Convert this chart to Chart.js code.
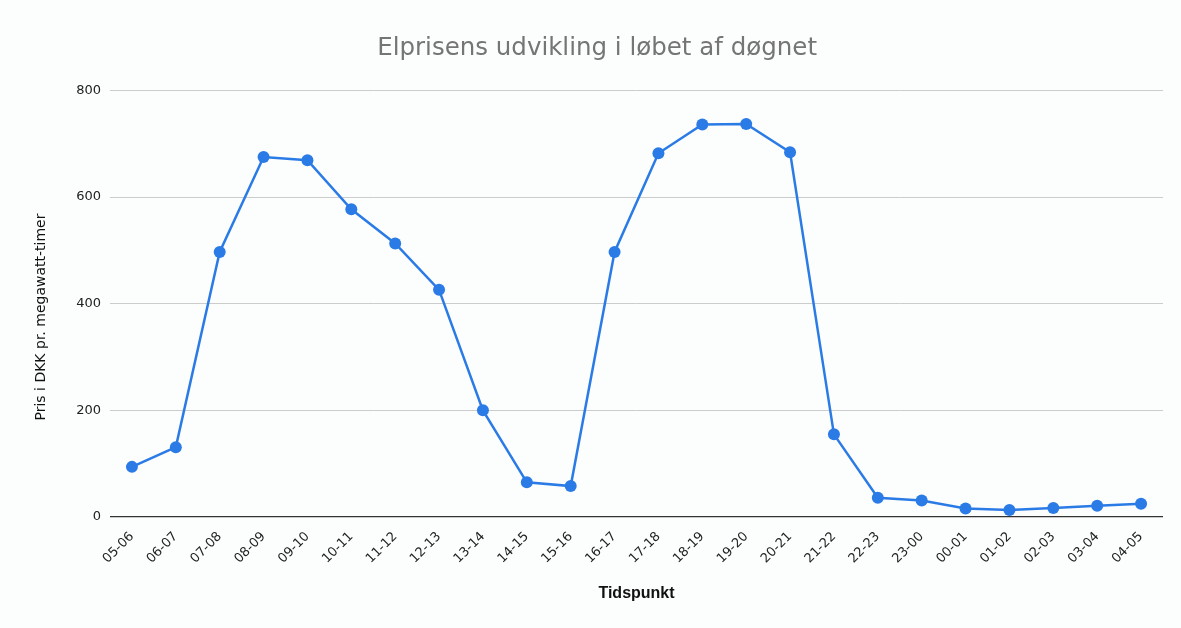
<!DOCTYPE html>
<html>
<head>
<meta charset="utf-8">
<script src="https://cdn.jsdelivr.net/npm/chart.js@4"></script>
<style>
  html, body { margin: 0; padding: 0; background: #fcfdfd; }
  #wrap { width: 1181px; height: 628px; }
</style>
</head>
<body>
<div id="wrap"><canvas id="c" width="1181" height="628"></canvas></div>
<script>
"use strict";

// time slots (hour intervals)
var categories = [
  "05-06", "06-07", "07-08", "08-09", "09-10", "10-11", "11-12", "12-13",
  "13-14", "14-15", "15-16", "16-17", "17-18", "18-19", "19-20", "20-21",
  "21-22", "22-23", "23-00", "00-01", "01-02", "02-03", "03-04", "04-05"
];

// price in DKK per MWh
var prices = [
  94, 131, 497, 675, 669, 577, 513, 426,
  200, 65, 58, 497, 682, 736, 737, 684,
  155, 36, 31, 16, 13, 17, 21, 25
];

var yTicks = [0, 200, 400, 600, 800];

var lineColor = "#2b7be6";
var sans = "'DejaVu Sans', Verdana, sans-serif";
var nb = "\u00a0";

var chart = new Chart(document.getElementById("c"), {
  type: "line",
  data: {
    labels: categories,
    datasets: [{
      label: "Pris",
      data: prices,
      borderColor: lineColor,
      backgroundColor: lineColor,
      borderWidth: 2.5,
      pointRadius: 6,
      pointHoverRadius: 6,
      pointBorderWidth: 0,
      tension: 0
    }]
  },
  options: {
    responsive: false,
    animation: false,
    layout: { padding: { left: 0, right: 18, top: 0, bottom: 0 } },
    plugins: {
      legend: { display: false },
      tooltip: { enabled: false },
      title: {
        display: true,
        // leading spaces nudge the title right, centred over the plot like the original
        text: nb.repeat(4) + "Elprisens udvikling i løbet af døgnet",
        color: "#757575",
        font: { family: sans, size: 24.5, weight: "normal" },
        padding: { top: 34, bottom: 27 }
      }
    },
    scales: {
      x: {
        offset: true,
        grid: { display: false },
        border: { display: false },
        ticks: {
          color: "#222",
          font: { family: sans, size: 13 },
          maxRotation: 45,
          minRotation: 45,
          autoSkip: false,
          padding: 4
        },
        title: {
          display: true,
          text: "Tidspunkt",
          color: "#111",
          font: { family: "'Liberation Sans', Arial, sans-serif", size: 16, weight: "bold" },
          padding: { top: 0, bottom: 25 }
        },
        afterFit: function(scale) { scale.height = 111; }
      },
      y: {
        min: 0,
        max: 800,
        afterBuildTicks: function(scale) {
          scale.ticks = yTicks.map(function(v) { return { value: v }; });
        },
        grid: {
          drawTicks: false,
          color: function(ctx) { return ctx.tick && ctx.tick.value === 0 ? "#333" : "#cccccc"; },
          lineWidth: function(ctx) { return ctx.tick && ctx.tick.value === 0 ? 1.2 : 1; }
        },
        border: { display: false },
        ticks: {
          color: "#222",
          font: { family: sans, size: 13 },
          padding: 9
        },
        title: {
          display: true,
          // trailing spaces push the rotated title a bit lower, like the original
          text: "Pris i DKK pr. megawatt-timer" + nb.repeat(6),
          color: "#111",
          font: { family: sans, size: 14 },
          padding: { top: 33, bottom: 0 }
        },
        afterFit: function(scale) { scale.width = 110; }
      }
    }
  }
});
</script>
</body>
</html>
